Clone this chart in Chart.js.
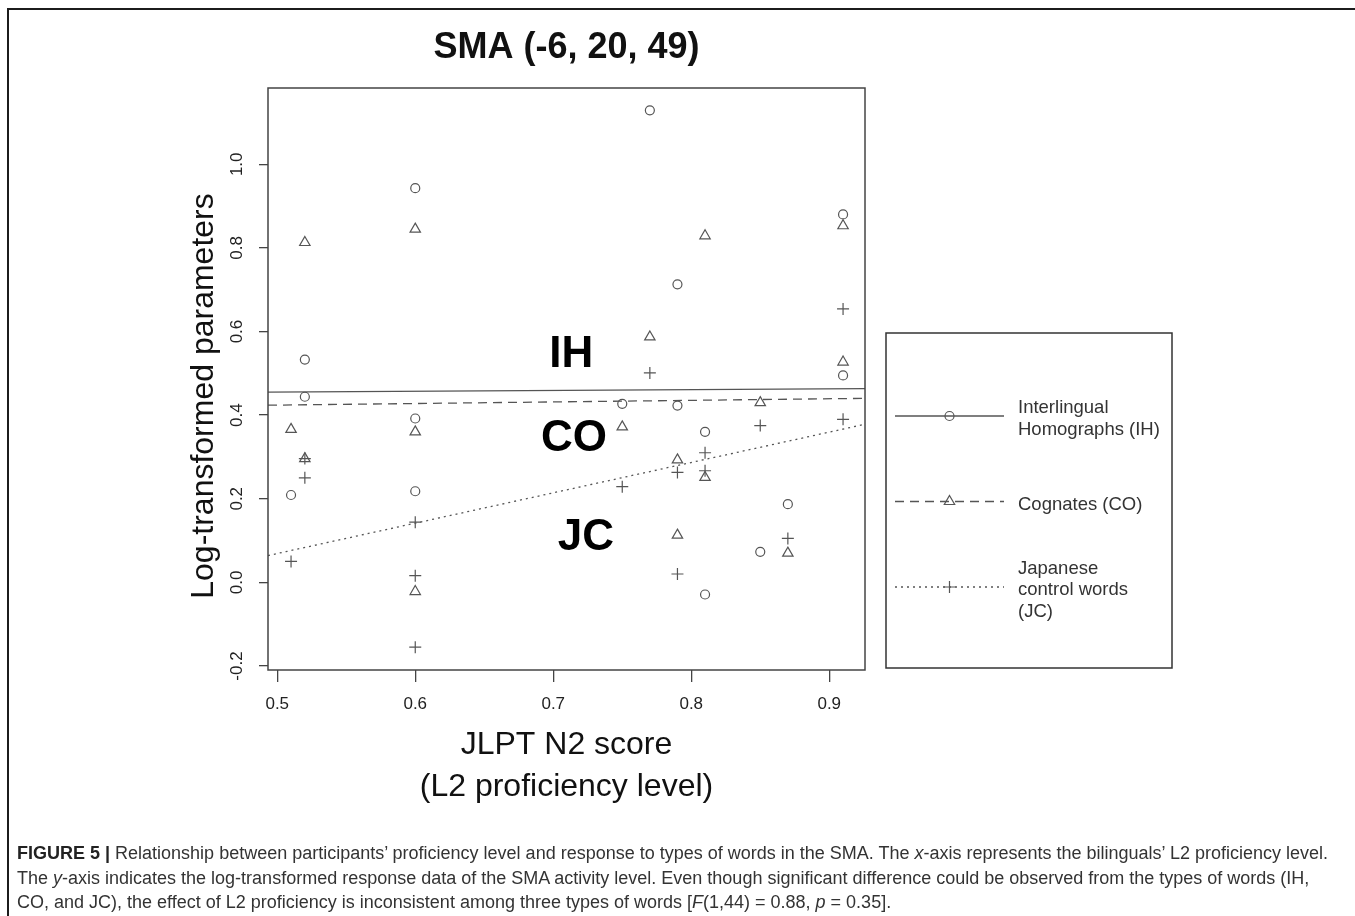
<!DOCTYPE html>
<html>
<head>
<meta charset="utf-8">
<script src="https://cdn.jsdelivr.net/npm/chart.js@4.4.1/dist/chart.umd.min.js"></script>
<style>
  html, body { margin: 0; padding: 0; overflow: hidden; background: #fff; }
  body { font-family: "Liberation Sans", Arial, sans-serif; }
  #frame { position: absolute; left: 7px; top: 8px; width: 1400px; height: 1000px; border: 2px solid #1c1c1c; }
  #chart { position: absolute; left: 0; top: 0; }
  #caption { position: absolute; left: 17px; top: 841px; font-size: 18px; line-height: 24.5px; color: #333; white-space: nowrap; }
  #caption b { color: #222; }
</style>
</head>
<body>
<div id="frame"></div>
<canvas id="chart" width="1355" height="916"></canvas>
<div id="caption">
  <b>FIGURE 5 |</b> Relationship between participants’ proficiency level and response to types of words in the SMA. The <i>x</i>-axis represents the bilinguals’ L2 proficiency level.<br>
  The <i>y</i>-axis indicates the log-transformed response data of the SMA activity level. Even though significant difference could be observed from the types of words (IH,<br>
  CO, and JC), the effect of L2 proficiency is inconsistent among three types of words [<i>F</i>(1,44) = 0.88, <i>p</i> = 0.35].
</div>
<script>
// JLPT N2 score of each participant (same for all three word types)
const jlptScores = [0.51, 0.52, 0.52, 0.60, 0.60, 0.60, 0.75, 0.77, 0.79, 0.79, 0.81, 0.81, 0.85, 0.87, 0.91, 0.91];
// log-transformed parameters per word type
const ihValues = [0.209, 0.444, 0.533, 0.943, 0.392, 0.218, 0.427, 1.129, 0.713, 0.423, 0.360, -0.029, 0.073, 0.187, 0.880, 0.495];
const coValues = [0.366, 0.813, 0.296, 0.845, 0.360, -0.022, 0.372, 0.587, 0.293, 0.113, 0.829, 0.251, 0.430, 0.070, 0.853, 0.527];
const jcValues = [0.050, 0.296, 0.250, 0.144, 0.016, -0.155, 0.229, 0.501, 0.263, 0.020, 0.310, 0.267, 0.375, 0.105, 0.654, 0.390];
// regression lines (intercept, slope) for IH, CO, JC
const fitIntercepts = [0.445, 0.405, -0.294];
const fitSlopes = [0.020, 0.038, 0.726];
// series names
const seriesNames = ["Interlingual Homographs (IH)", "Cognates (CO)", "Japanese control words (JC)"];
const legendLines = [["Interlingual", "Homographs (IH)"], ["Cognates (CO)"], ["Japanese", "control words", "(JC)"]];
const groupLabels = ["IH", "CO", "JC"];
// axis ticks
const xTicks = [0.5, 0.6, 0.7, 0.8, 0.9];
const yTicks = [-0.2, 0.0, 0.2, 0.4, 0.6, 0.8, 1.0];
const xMin = 0.4933, xMax = 0.9259;
const yMin = -0.2096, yMax = 1.1825;

const ink = "#555";
const pointStyles = ["circle", "triangle", "cross"];
const pointSizes = [4.5, 6, 6];
const dashes = [[], [9, 6], [2, 4]];

Chart.defaults.font.family = "'Liberation Sans', Arial, sans-serif";

const toPoints = (vals) => vals.map((v, i) => ({ x: jlptScores[i], y: v }));

const datasets = [];
[ihValues, coValues, jcValues].forEach((vals, i) => {
  datasets.push({
    type: "scatter",
    label: seriesNames[i],
    data: toPoints(vals),
    pointStyle: pointStyles[i],
    pointRadius: pointSizes[i],
    pointBorderColor: ink,
    pointBackgroundColor: "rgba(0,0,0,0)",
    pointBorderWidth: 1.2,
    borderDash: dashes[i],
  });
});
// fitted lines from intercept/slope, spanning the x range
fitIntercepts.forEach((a, i) => {
  datasets.push({
    type: "line",
    label: seriesNames[i] + " fit",
    data: [xMin, xMax].map((x) => ({ x: x, y: a + fitSlopes[i] * x })),
    borderColor: ink,
    borderWidth: 1.3,
    borderDash: dashes[i],
    pointRadius: 0,
    fill: false,
  });
});

// box, y title, in-plot labels and the legend box
const extrasPlugin = {
  id: "extras",
  afterDraw(chart) {
    const { ctx, chartArea: a, scales } = chart;
    ctx.save();
    ctx.strokeStyle = "#444";
    ctx.lineWidth = 1.5;
    ctx.strokeRect(a.left, a.top, a.right - a.left, a.bottom - a.top);

    // y axis title
    ctx.save();
    ctx.translate(204, (a.top + a.bottom) / 2 + 17);
    ctx.rotate(-Math.PI / 2);
    ctx.fillStyle = "#111";
    ctx.font = "32px 'Liberation Sans', Arial, sans-serif";
    ctx.textAlign = "center";
    ctx.textBaseline = "middle";
    ctx.fillText("Log-transformed parameters", 0, 0);
    ctx.restore();

    // IH / CO / JC labels inside the plot
    const labelAt = [[0.713, 0.548], [0.715, 0.348], [0.7236, 0.112]];
    ctx.fillStyle = "#000";
    ctx.font = "bold 44px 'Liberation Sans', Arial, sans-serif";
    ctx.textAlign = "center";
    ctx.textBaseline = "middle";
    groupLabels.forEach((t, i) => {
      ctx.fillText(t, scales.x.getPixelForValue(labelAt[i][0]), scales.y.getPixelForValue(labelAt[i][1]) + 2);
    });

    // legend box
    const lx = a.right + 21, ly = 333, lw = 286, lh = 335;
    ctx.strokeStyle = "#333";
    ctx.lineWidth = 1.5;
    ctx.strokeRect(lx, ly, lw, lh);
    ctx.font = "18.5px 'Liberation Sans', Arial, sans-serif";
    ctx.textAlign = "left";
    legendLines.forEach((lines, i) => {
      const ds = chart.data.datasets[i];
      const ry = ly + 83 + i * 85.5;
      ctx.strokeStyle = ink;
      ctx.lineWidth = 1.3;
      ctx.setLineDash(ds.borderDash);
      ctx.beginPath();
      ctx.moveTo(lx + 9, ry);
      ctx.lineTo(lx + 118, ry);
      ctx.stroke();
      ctx.setLineDash([]);
      ctx.fillStyle = "rgba(0,0,0,0)";
      ctx.lineWidth = 1.2;
      Chart.helpers.drawPoint(ctx, { pointStyle: ds.pointStyle, radius: ds.pointRadius, borderWidth: 1.2, rotation: 0 }, lx + 63.5, ry);
      ctx.fillStyle = "#333";
      const lineH = 21.5;
      const y0 = ry - (lines.length - 1) * lineH / 2 + 3;
      lines.forEach((t, k) => ctx.fillText(t, lx + 132, y0 + k * lineH));
    });
    ctx.restore();
  },
};

new Chart(document.getElementById("chart"), {
  type: "scatter",
  data: { datasets: datasets },
  options: {
    responsive: false,
    animation: false,
    layout: { padding: { left: 0, right: 490, top: 16, bottom: 0 } },
    plugins: {
      legend: { display: false },
      tooltip: { enabled: false },
      title: {
        display: true,
        fullSize: false,
        text: "SMA (-6, 20, 49)",
        color: "#111",
        font: { size: 36, weight: "bold" },
        padding: { top: 10, bottom: 18.8 },
      },
    },
    scales: {
      x: {
        type: "linear",
        min: xMin,
        max: xMax,
        afterFit: (s) => { s.height = 246; },
        afterBuildTicks: (s) => { s.ticks = xTicks.map((v) => ({ value: v })); },
        grid: { drawOnChartArea: false, tickLength: 12, color: "#444", lineWidth: 1.3 },
        border: { display: false },
        ticks: { padding: 12, color: "#222", font: { size: 17 }, callback: (v) => Number(v).toFixed(1) },
        title: {
          display: true,
          text: ["JLPT N2 score", "(L2 proficiency level)"],
          color: "#111",
          font: { size: 32, lineHeight: 1.3 },
          padding: { top: 0, bottom: 108 },
        },
      },
      y: {
        type: "linear",
        min: yMin,
        max: yMax,
        afterFit: (s) => { s.width = 268; },
        afterBuildTicks: (s) => { s.ticks = yTicks.map((v) => ({ value: v })); },
        grid: { drawOnChartArea: false, tickLength: 9, color: "#444", lineWidth: 1.3 },
        border: { display: false },
        ticks: {
          padding: 7,
          minRotation: 90,
          maxRotation: 90,
          crossAlign: "center",
          color: "#222",
          font: { size: 17 },
          callback: (v) => Number(v).toFixed(1),
        },
      },
    },
  },
  plugins: [extrasPlugin],
});
</script>
</body>
</html>
